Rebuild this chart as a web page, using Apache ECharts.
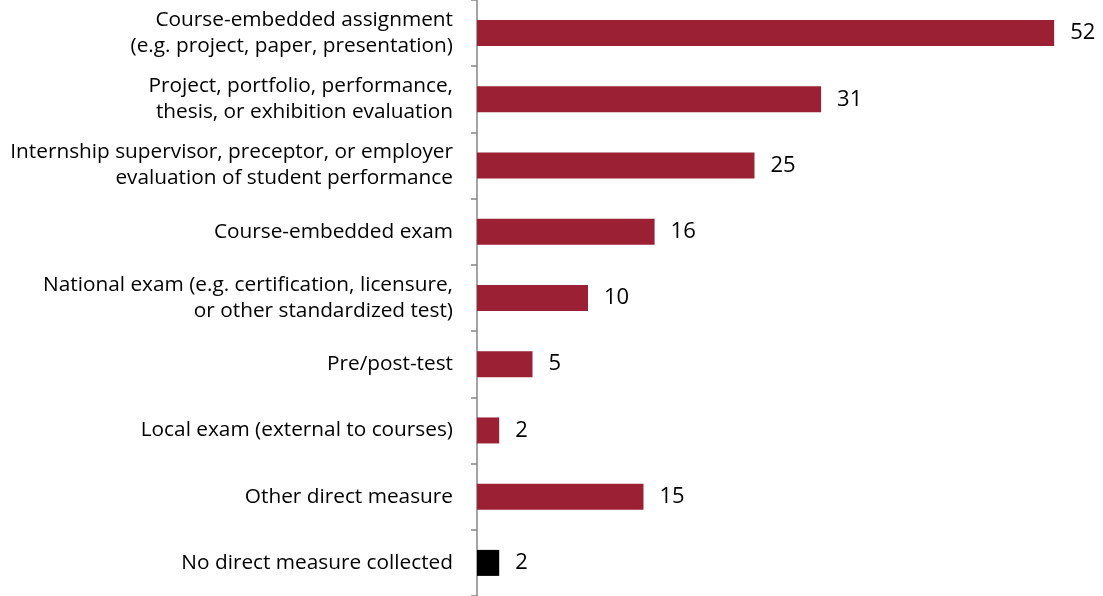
<!DOCTYPE html>
<html>
<head>
<meta charset="utf-8">
<script src="https://cdn.jsdelivr.net/npm/echarts@6/dist/echarts.min.js"></script>
<style>
  html, body { margin: 0; padding: 0; background: #fff; }
  #chart { width: 1103px; height: 596px; }
</style>
</head>
<body>
<div id="chart"></div>
<script>
// categories, top to bottom
var categories = [
    'Course-embedded assignment\n(e.g. project, paper, presentation)',
    'Project, portfolio, performance,\nthesis, or exhibition evaluation',
    'Internship supervisor, preceptor, or employer\nevaluation of student performance',
    'Course-embedded exam',
    'National exam (e.g. certification, licensure,\nor other standardized test)',
    'Pre/post-test',
    'Local exam (external to courses)',
    'Other direct measure',
    'No direct measure collected'
];
var counts = [52, 31, 25, 16, 10, 5, 2, 15, 2];
var blackCategory = 'No direct measure collected';

var myChart = echarts.init(document.getElementById('chart'));

var option = {
    animation: false,
    grid: {
        left: 477,
        top: 0,
        right: 0,
        height: 597
    },
    xAxis: {
        type: 'value',
        min: 0,
        max: 56.4,
        show: false
    },
    yAxis: {
        type: 'category',
        inverse: true,
        data: categories,
        axisLine: { show: true, lineStyle: { color: '#868686', width: 1.5 } },
        axisTick: { show: true, length: 6, lineStyle: { color: '#868686', width: 1.5 } },
        axisLabel: {
            margin: 24,
            color: '#000',
            fontFamily: 'Open Sans',
            fontSize: 20.8,
            lineHeight: 26,
            align: 'right'
        }
    },
    series: [{
        type: 'bar',
        barWidth: 26,
        data: counts.map(function (v, i) {
            return {
                value: v,
                itemStyle: { color: categories[i] === blackCategory ? '#000000' : '#9b2034' }
            };
        }),
        label: {
            show: true,
            position: 'right',
            distance: 16,
            color: '#000',
            fontFamily: 'Open Sans',
            fontSize: 22
        }
    }]
};

myChart.setOption(option);
</script>
</body>
</html>
